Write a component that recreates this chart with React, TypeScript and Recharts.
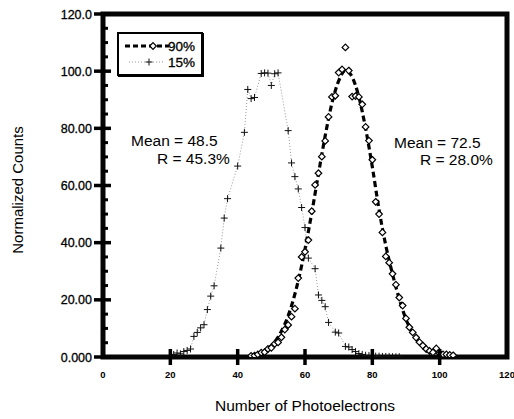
import React from 'react';
import { ComposedChart, Line, Scatter, XAxis, YAxis, Legend, ReferenceArea } from 'recharts';

const FONT = '"Liberation Sans", Arial, sans-serif';

const xTicks = [0, 20, 40, 60, 80, 100, 120];
const xTickLabels = ['0', '20', '40', '60', '80', '100', '120'];
const yTicks = [0, 5, 10, 15, 20, 25, 30, 35, 40, 45, 50, 55, 60, 65, 70, 75, 80, 85, 90, 95, 100, 105, 110, 115, 120];
const yMajorTicks = [0, 20, 40, 60, 80, 100, 120];
const yTickLabels = ['0.000', '20.00', '40.00', '60.00', '80.00', '100.0', '120.0'];
const xDomain = [0, 120];
const yDomain = [0, 120];

const seriesNames = ['90%', '15%'];

const x15 = [20, 21, 22, 23, 24, 25, 26, 27, 28, 29, 30, 31, 32, 33, 35, 36, 37, 40, 42, 43, 44, 45, 47, 48, 49, 50, 51, 52, 55, 56, 57, 58, 59, 60, 61, 63, 64, 65, 66, 67, 69, 70, 72, 73, 74, 75, 76, 77, 78, 79, 80, 81, 82, 83, 84, 85, 86, 87, 88];
const y15 = [0.4, 0.9, 1.4, 1.1, 1.9, 2.3, 2.8, 7.2, 8.6, 10.2, 11.3, 16.6, 21.3, 24.9, 38.1, 48.6, 55.4, 66.8, 78.6, 93.6, 90.4, 90.8, 99.2, 99.4, 99.3, 95.0, 99.1, 99.4, 79.2, 67.9, 63.1, 58.8, 52.3, 45.3, 34.6, 30.9, 21.7, 19.8, 17.6, 12.1, 8.7, 8.4, 3.7, 3.5, 2.6, 1.9, 1.2, 0.9, 0.6, 0.5, 0.4, 0.3, 0.3, 0.2, 0.2, 0.2, 0.1, 0.1, 0.1];

const x90 = [44, 45, 46, 47, 48, 49, 50, 51, 52, 53, 54, 55, 56, 57, 58, 59, 60, 61, 62, 63, 64, 65, 66, 67, 68, 69, 70, 71, 72, 73, 74, 75, 76, 77, 78, 79, 80, 81, 82, 83, 84, 85, 86, 87, 88, 89, 90, 91, 92, 93, 94, 95, 96, 97, 98, 99, 100, 101, 102, 103, 104];
const y90 = [0.4, 0.5, 0.9, 1.5, 1.7, 2.8, 3.2, 4.6, 5.1, 6.9, 9.6, 11.2, 14.1, 16.9, 27.6, 35.0, 36.8, 40.9, 51.0, 60.2, 64.3, 70.1, 75.6, 84.0, 91.0, 91.4, 99.5, 100.6, 108.3, 100.2, 91.1, 91.3, 91.0, 88.4, 80.5, 75.7, 69.0, 54.3, 50.0, 43.6, 35.2, 33.0, 29.1, 25.3, 20.8, 18.0, 13.5, 10.4, 8.6, 6.8, 5.2, 4.0, 2.8, 2.1, 1.6, 3.0, 1.3, 0.9, 0.9, 0.7, 0.6];

const xFit90 = [44, 46, 48, 50, 52, 54, 56, 58, 60, 62, 64, 66, 68, 70, 72, 74, 76, 78, 80, 82, 84, 86, 88, 90, 92, 94, 96, 98, 100, 102, 104];
const yFit90 = [0.5, 1.1, 2.2, 4.0, 7.0, 11.5, 17.9, 26.7, 37.7, 50.4, 64.1, 77.4, 88.8, 96.6, 100.3, 98.0, 91.0, 80.0, 66.5, 51.5, 39.0, 29.0, 20.3, 13.2, 8.3, 5.0, 2.9, 1.6, 0.9, 0.5, 0.2];

const annotLeft = ['Mean = 48.5', 'R = 45.3%'];
const annotRight = ['Mean = 72.5', 'R = 28.0%'];

const data15 = x15.map((x, i) => ({ x, y: y15[i] }));
const data90 = x90.map((x, i) => ({ x, y: y90[i] }));
const fit90 = xFit90.map((x, i) => ({ x, y: yFit90[i] }));

const LeftYTick = (props: any) => {
  const { x, y, payload } = props;
  const idx = yMajorTicks.indexOf(payload.value);
  if (idx >= 0) {
    return (
      <g>
        <line x1={x - 9} x2={x + 8} y1={y} y2={y} stroke="#000" strokeWidth={3.5} />
        <text x={x - 11} y={y} dy="0.36em" textAnchor="end" fontFamily={FONT} fontSize={12.5} fill="#000" stroke="#000" strokeWidth={0.3}>
          {yTickLabels[idx]}
        </text>
      </g>
    );
  }
  return <line x1={x} x2={x + 5} y1={y} y2={y} stroke="#000" strokeWidth={3} />;
};

const RightYTick = (props: any) => {
  const { x, y, payload } = props;
  const idx = yMajorTicks.indexOf(payload.value);
  if (idx >= 0) {
    if (payload.value === 0) return <g />;
    return <line x1={x - 8} x2={x + 5} y1={y} y2={y} stroke="#000" strokeWidth={3.5} />;
  }
  return <line x1={x - 6} x2={x} y1={y} y2={y} stroke="#000" strokeWidth={3} />;
};

const BottomXTick = (props: any) => {
  const { x, y, payload } = props;
  const idx = xTicks.indexOf(payload.value);
  const showLine = payload.value !== 0 && payload.value !== 120;
  return (
    <g>
      {showLine && <line x1={x} x2={x} y1={y - 8} y2={y + 8} stroke="#000" strokeWidth={3.5} />}
      <text x={x} y={y + 18} dy="0.35em" textAnchor="middle" fontFamily={FONT} fontSize={9.5} fontWeight="bold" fill="#000">
        {xTickLabels[idx]}
      </text>
    </g>
  );
};

const TopXTick = (props: any) => {
  const { x, y, payload } = props;
  if (payload.value === 0) return <g />;
  return <line x1={x} x2={x} y1={y - 9} y2={y + 8} stroke="#000" strokeWidth={3.5} />;
};

const Diamond = (props: any) => {
  const { cx, cy } = props;
  if (cx == null || cy == null) return <g />;
  const r = 3.3;
  return (
    <path
      d={`M${cx},${cy - r} L${cx + r},${cy} L${cx},${cy + r} L${cx - r},${cy} Z`}
      fill="#fff"
      stroke="#000"
      strokeWidth={1.2}
    />
  );
};

const PlusDot = (props: any) => {
  const { cx, cy, index } = props;
  if (cx == null || cy == null) return <g key={index} />;
  const r = 3.5;
  return (
    <g key={index}>
      <line x1={cx - r} x2={cx + r} y1={cy} y2={cy} stroke="#111" strokeWidth={1} />
      <line x1={cx} x2={cx} y1={cy - r} y2={cy + r} stroke="#111" strokeWidth={1} />
    </g>
  );
};

const LegendBox = () => (
  <div
    style={{
      width: 82,
      height: 40,
      border: '2px solid #000',
      boxShadow: '1px 1px 0 #000',
      background: '#fff',
      position: 'relative',
    }}
  >
    <svg width={82} height={40} style={{ position: 'absolute', left: 0, top: 0 }}>
      <line x1={6} x2={50} y1={12} y2={12} stroke="#000" strokeWidth={3} strokeDasharray="5 3" />
      <path d="M34,8.7 L37.3,12 L34,15.3 L30.7,12 Z" fill="#fff" stroke="#000" strokeWidth={1.2} />
      <text x={76} y={12} dy="0.36em" textAnchor="end" fontFamily={FONT} fontSize={13.5} fill="#000" stroke="#000" strokeWidth={0.3}>
        {seriesNames[0]}
      </text>
      <line x1={10} x2={46} y1={28} y2={28} stroke="#999" strokeWidth={1} strokeDasharray="1 2" />
      <line x1={26.5} x2={33.5} y1={28} y2={28} stroke="#111" strokeWidth={1} />
      <line x1={30} x2={30} y1={24.5} y2={31.5} stroke="#111" strokeWidth={1} />
      <text x={76} y={28} dy="0.36em" textAnchor="end" fontFamily={FONT} fontSize={13.5} fill="#000" stroke="#000" strokeWidth={0.3}>
        {seriesNames[1]}
      </text>
    </svg>
  </div>
);

export default function App() {
  return (
    <div style={{ position: 'absolute', left: 0, top: 0, width: 514, height: 419, background: '#fff' }}>
      <ComposedChart width={514} height={419} margin={{ top: 13, right: 6, bottom: 22, left: 0 }}>
        <XAxis dataKey="x" type="number" domain={xDomain} ticks={xTicks} interval={0} allowDataOverflow height={40}
          axisLine={false} tickLine={false} tickSize={0} tickMargin={0} tick={<BottomXTick />} />
        <XAxis xAxisId="top" orientation="top" type="number" domain={xDomain} ticks={xTicks} interval={0} height={1}
          axisLine={false} tickLine={false} tickSize={0} tickMargin={0} tick={<TopXTick />} />
        <YAxis type="number" domain={yDomain} ticks={yTicks} interval={0} allowDataOverflow width={103}
          axisLine={false} tickLine={false} tickSize={0} tickMargin={0} tick={<LeftYTick />} />
        <YAxis yAxisId="right" orientation="right" type="number" domain={yDomain} ticks={yTicks} interval={0} width={1}
          axisLine={false} tickLine={false} tickSize={0} tickMargin={0} tick={<RightYTick />} />
        <ReferenceArea x1={xDomain[0]} x2={xDomain[1]} y1={yDomain[0]} y2={yDomain[1]}
          fill="none" fillOpacity={0} stroke="#050505" strokeWidth={5} strokeOpacity={1} ifOverflow="visible" />
        <Legend layout="vertical" verticalAlign="middle" align="center" content={<LegendBox />}
          wrapperStyle={{ position: 'absolute', left: 117, top: 32, width: 86, height: 44 }} />
        <Line data={data15} dataKey="y" name={seriesNames[1]} type="linear" stroke="#999" strokeWidth={1}
          strokeDasharray="1 2" dot={<PlusDot />} activeDot={false} isAnimationActive={false} legendType="none" />
        <Line data={fit90} dataKey="y" name={seriesNames[0]} type="monotone" stroke="#000" strokeWidth={3.2}
          strokeDasharray="6 3.5" dot={false} activeDot={false} isAnimationActive={false} />
        <Scatter data={data90} dataKey="y" name={seriesNames[0]} shape={<Diamond />} isAnimationActive={false} legendType="none" />
        <text x={131} y={146} fontFamily={FONT} fontSize={15.5} fill="#000">{annotLeft[0]}</text>
        <text x={157} y={164} fontFamily={FONT} fontSize={15.5} fill="#000">{annotLeft[1]}</text>
        <text x={394} y={148} fontFamily={FONT} fontSize={15.5} fill="#000">{annotRight[0]}</text>
        <text x={420} y={165} fontFamily={FONT} fontSize={15.5} fill="#000">{annotRight[1]}</text>
        <text x={305} y={411} textAnchor="middle" fontFamily={FONT} fontSize={15.5} fill="#000">Number of Photoelectrons</text>
        <text x={23} y={190} textAnchor="middle" transform="rotate(-90 23 190)" fontFamily={FONT} fontSize={15} fill="#000">Normalized Counts</text>
      </ComposedChart>
    </div>
  );
}
